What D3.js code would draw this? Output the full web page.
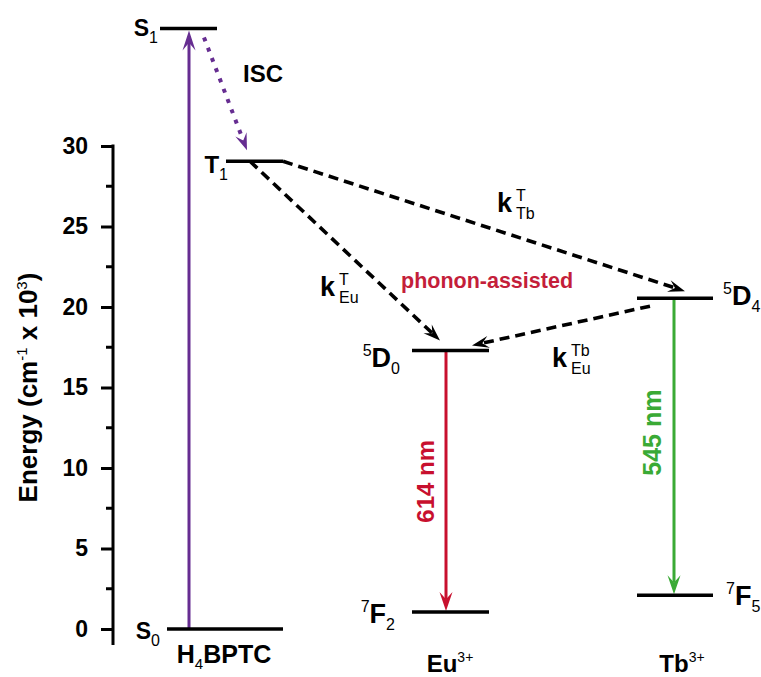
<!DOCTYPE html>
<html>
<head>
<meta charset="utf-8">
<script src="https://cdn.jsdelivr.net/npm/d3@7"></script>
<style>
  html,body{margin:0;padding:0;background:#fff;}
</style>
</head>
<body>
<svg id="chart" width="761" height="677" font-family="Liberation Sans, Arial, Helvetica, sans-serif" font-weight="bold"></svg>
<script>
// ---------------- data ----------------
const columns = ["H4BPTC", "Eu", "Tb"];
const yTicks = [0, 5, 10, 15, 20, 25, 30];
const yMinorTicks = [2.5, 7.5, 12.5, 17.5, 22.5, 27.5];
// energy levels (x10^3 cm^-1)
const levelNames  = ["S1", "T1", "S0", "5D0", "7F2", "5D4", "7F5"];
const levelCols   = ["H4BPTC", "H4BPTC", "H4BPTC", "Eu", "Eu", "Tb", "Tb"];
const levelEnergy = [37.3, 29.05, 0, 17.3, 1.05, 20.55, 2.1];
// transitions
const transFrom = ["S0", "S1", "T1", "T1", "5D4", "5D0", "5D4"];
const transTo   = ["S1", "T1", "5D0", "5D4", "5D0", "7F2", "7F5"];
const transType = ["abs", "isc", "et", "et", "et", "em", "em"];

// ---------------- layout ----------------
const svg = d3.select("#chart");
const y = d3.scaleLinear().domain([0, 30]).range([629, 146]);
const x = d3.scalePoint().domain(columns).range([225, 675]);
const axisX = 113;

// horizontal extents of each level relative to its column centre (px)
const ext = {S1:[-65,-8], T1:[1,58], S0:[-58,58], "5D0":[-38,39], "7F2":[-38,39], "5D4":[-38,38], "7F5":[-38,38]};
// arrow endpoint offsets [dxStart, dyStart, dxEnd, dyEnd] relative to column centre / level y
const tOff = [
  [-36, 0, -36, 2],      // S0 -> S1
  [-21, 9, 22, -11],     // ISC
  [25, 0, -10, -10],     // T1 -> 5D0
  [58, 0, 10, -7],       // T1 -> 5D4
  [-25, 8, 22, -5],      // 5D4 -> 5D0
  [-4, 0, -4, -1],       // 614 nm
  [-1, 0, -1, -1]        // 545 nm
];
const purple = "#662d91", red = "#c8102e", green = "#3aaa35";

const levels = levelNames.map((n, i) => ({name: n, col: levelCols[i], e: levelEnergy[i]}));
const lv = Object.fromEntries(levels.map(d => [d.name, d]));

// ---------------- axis ----------------
const gAxis = svg.append("g").attr("transform", `translate(${axisX},0)`);
gAxis.call(d3.axisLeft(y).tickValues(yTicks).tickSize(12).tickPadding(13).tickFormat(d3.format("d")))
  .call(g => g.select(".domain").remove());
gAxis.attr("font-family", null).attr("font-size", null);
gAxis.selectAll(".tick line").attr("stroke", "#000").attr("stroke-width", 3);
gAxis.selectAll(".tick text").attr("font-size", 23).attr("fill", "#000");
gAxis.selectAll(".minor").data(yMinorTicks).enter().append("line")
  .attr("x1", -7).attr("x2", 0).attr("y1", d => y(d)).attr("y2", d => y(d))
  .attr("stroke", "#000").attr("stroke-width", 3);
gAxis.append("line").attr("x1", 0).attr("x2", 0)
  .attr("y1", y(30) - 1.5).attr("y2", y(-1))
  .attr("stroke", "#000").attr("stroke-width", 3);

// y label
const yl = svg.append("text").attr("transform", `translate(37,${(y(0)+y(30))/2}) rotate(-90)`)
  .attr("text-anchor", "middle").attr("font-size", 26).attr("fill", "#000");
yl.append("tspan").text("Energy (cm");
yl.append("tspan").text("-1").attr("font-size", 15).attr("font-weight", "normal").attr("dy", -10);
yl.append("tspan").text(" x 10").attr("dy", 10);
yl.append("tspan").text("3").attr("font-size", 15).attr("font-weight", "normal").attr("dy", -10);
yl.append("tspan").text(")").attr("dy", 10);

// ---------------- arrows ----------------
function head(g, x1, y1, x2, y2, len, wid, color) {
  const a = Math.atan2(y2 - y1, x2 - x1);
  const pts = [[0,0],[-len, wid/2],[-len*0.62, 0],[-len, -wid/2]];
  const p = pts.map(([px, py]) => [x2 + px*Math.cos(a) - py*Math.sin(a), y2 + px*Math.sin(a) + py*Math.cos(a)]);
  g.append("path").attr("d", "M" + p.map(q => q.join(",")).join("L") + "Z").attr("fill", color);
  return [x2 - len*0.62*Math.cos(a), y2 - len*0.62*Math.sin(a)];
}
const gArr = svg.append("g");
transFrom.forEach((f, i) => {
  const a = lv[f], b = lv[transTo[i]], o = tOff[i], t = transType[i];
  const x1 = x(a.col) + o[0], y1 = y(a.e) + o[1];
  const x2 = x(b.col) + o[2], y2 = y(b.e) + o[3];
  let color = "#000", sw = 3.6, dash = "10,6", len = 17, wid = 12;
  if (t === "abs") { color = purple; sw = 3; dash = null; len = 20; wid = 13; }
  if (t === "isc") { color = purple; sw = 4; dash = "4,7"; len = 17; wid = 12; }
  if (t === "em") { color = (b.name === "7F2") ? red : green; sw = 3; dash = null; len = 19; wid = 13; }
  const [ex, ey] = head(gArr, x1, y1, x2, y2, len, wid, color);
  gArr.append("line").attr("x1", x1).attr("y1", y1).attr("x2", ex).attr("y2", ey)
    .attr("stroke", color).attr("stroke-width", sw).attr("stroke-dasharray", dash);
});

// ---------------- levels ----------------
svg.append("g").selectAll("line").data(levels).enter().append("line")
  .attr("x1", d => x(d.col) + ext[d.name][0]).attr("x2", d => x(d.col) + ext[d.name][1])
  .attr("y1", d => y(d.e)).attr("y2", d => y(d.e))
  .attr("stroke", "#000").attr("stroke-width", 3.5);

// level labels
function lab(xp, yp, anchor, pre, main, sub, size) {
  const t = svg.append("text").attr("x", xp).attr("y", yp).attr("text-anchor", anchor)
    .attr("font-size", size).attr("fill", "#000");
  if (pre) t.append("tspan").text(pre).attr("font-size", 16).attr("font-weight", "normal").attr("dy", -11);
  t.append("tspan").text(main).attr("dy", pre ? 11 : 0);
  t.append("tspan").text(sub).attr("font-size", 16).attr("font-weight", "normal").attr("dy", 7);
}
const L = n => x(lv[n].col) + ext[n][0], R = n => x(lv[n].col) + ext[n][1], Y = n => y(lv[n].e);
lab(L("S1") - 2, Y("S1") + 8, "end", null, "S", "1", 23);
lab(L("T1") + 2, Y("T1") + 12, "end", null, "T", "1", 24);
lab(L("S0") - 7, Y("S0") + 10, "end", null, "S", "0", 23);
lab(L("5D0") - 12, Y("5D0") + 17, "end", "5", "D", "0", 27);
lab(L("7F2") - 17, Y("7F2") + 11, "end", "7", "F", "2", 27);
lab(R("5D4") + 10, Y("5D4") + 7, "start", "5", "D", "4", 27);
lab(R("7F5") + 13, Y("7F5") + 10, "start", "7", "F", "5", 27);

// column labels
const cl = svg.append("text").attr("x", x("H4BPTC") - 1).attr("y", 663).attr("text-anchor", "middle")
  .attr("font-size", 25).attr("fill", "#000");
cl.append("tspan").text("H");
cl.append("tspan").text("4").attr("font-size", 15).attr("font-weight", "normal").attr("dy", 6);
cl.append("tspan").text("BPTC").attr("dy", -6);
[["Eu", 0], ["Tb", 7]].forEach(([c, dx]) => {
  const t = svg.append("text").attr("x", x(c) + dx).attr("y", 672).attr("text-anchor", "middle")
    .attr("font-size", 24).attr("fill", "#000");
  t.append("tspan").text(c);
  t.append("tspan").text("3+").attr("font-size", 14).attr("font-weight", "normal").attr("dy", -10);
});

// transition annotations
svg.append("text").attr("x", 243).attr("y", 82).attr("font-size", 24).attr("fill", "#000").text("ISC");
function kLab(xp, yp, sup, sub) {
  svg.append("text").attr("x", xp).attr("y", yp).attr("font-size", 27).attr("fill", "#000").text("k");
  svg.append("text").attr("x", xp + 19).attr("y", yp - 11).attr("font-size", 16).attr("font-weight", "normal").attr("fill", "#000").text(sup);
  svg.append("text").attr("x", xp + 19).attr("y", yp + 7).attr("font-size", 16).attr("font-weight", "normal").attr("fill", "#000").text(sub);
}
kLab(497, 212, "T", "Tb");
kLab(320, 296, "T", "Eu");
kLab(552, 367, "Tb", "Eu");
svg.append("text").attr("x", 401).attr("y", 288).attr("font-size", 21.5).attr("fill", "#c41e3a").text("phonon-assisted");
svg.append("text").attr("transform", `translate(434,${(Y("5D0")+Y("7F2"))/2}) rotate(-90)`)
  .attr("text-anchor", "middle").attr("font-size", 24).attr("fill", red).text("614 nm");
svg.append("text").attr("transform", `translate(661,${(Y("5D4")+Y("7F5"))/2 - 14}) rotate(-90)`)
  .attr("text-anchor", "middle").attr("font-size", 25).attr("fill", green).text("545 nm");
</script>
</body>
</html>
